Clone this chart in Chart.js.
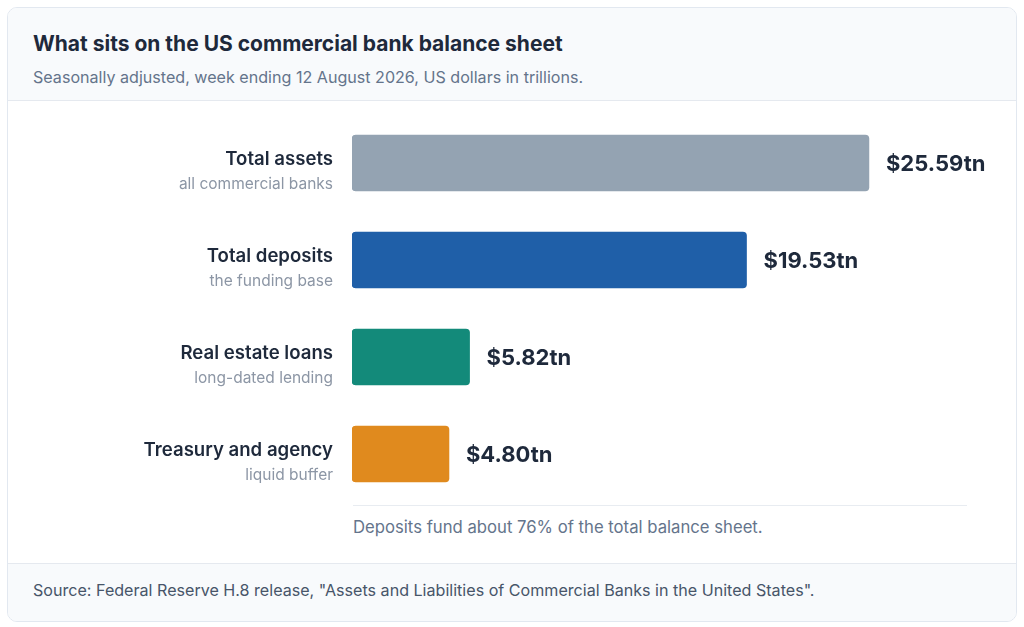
<!DOCTYPE html>
<html>
<head>
<meta charset="utf-8">
<script src="https://cdn.jsdelivr.net/npm/chart.js@4"></script>
<style>
  html, body { margin:0; padding:0; background:#ffffff; width:1024px; height:627px; overflow:hidden; font-family: Inter, "Noto Sans", sans-serif; }
  .card { position:absolute; left:7px; top:7px; width:1008px; height:613px; border:1px solid #e2e8f0; border-radius:10px; background:#fff; overflow:hidden; }
  .head { position:absolute; left:0; top:0; width:100%; height:92px; background:#f8fafc; border-bottom:1px solid #e5e9ef; }
  .title { position:absolute; left:25px; top:23px; font-size:21px; font-weight:700; color:#1e293b; }
  .sub { position:absolute; left:25px; top:59px; font-size:16.1px; color:#64748b; }
  .foot { position:absolute; left:0; top:555px; width:100%; height:60px; background:#f8fafc; border-top:1px solid #e5e9ef; }
  .src { position:absolute; left:25px; top:16px; font-size:16.1px; color:#475569; }
  .divider { position:absolute; left:345px; top:497px; width:614px; height:1px; background:#e8ecf1; }
  .note { position:absolute; left:345px; top:509px; font-size:16.7px; color:#64748b; }
  canvas { position:absolute; left:0; top:0; }
</style>
</head>
<body>
<div class="card">
  <div class="head">
    <div class="title">What sits on the US commercial bank balance sheet</div>
    <div class="sub">Seasonally adjusted, week ending 12 August 2026, US dollars in trillions.</div>
  </div>
  <div class="divider"></div>
  <div class="note">Deposits fund about 76% of the total balance sheet.</div>
  <div class="foot">
    <div class="src">Source: Federal Reserve H.8 release, "Assets and Liabilities of Commercial Banks in the United States".</div>
  </div>
</div>
<canvas id="c" width="1024" height="627"></canvas>
<script>
const categories = ["Total assets", "Total deposits", "Real estate loans", "Treasury and agency"];
const sublabels = ["all commercial banks", "the funding base", "long-dated lending", "liquid buffer"];
const values = [25.59, 19.53, 5.82, 4.80];
const valueLabels = ["$25.59tn", "$19.53tn", "$5.82tn", "$4.80tn"];
const barColors = ["#94a3b2", "#1f5fa8", "#138a7a", "#e08a1e"];

const labelPlugin = {
  id: 'labels',
  afterDatasetsDraw(chart) {
    const ctx = chart.ctx;
    const ys = chart.scales.y;
    const meta = chart.getDatasetMeta(0);
    ctx.save();
    categories.forEach((cat, i) => {
      const cy = ys.getPixelForValue(i);
      ctx.textAlign = 'right';
      ctx.textBaseline = 'middle';
      ctx.fillStyle = '#1e293b';
      ctx.font = '600 18.6px Inter, "Noto Sans", sans-serif';
      ctx.fillText(cat, 333, cy - 3.5);
      ctx.fillStyle = '#8c96a5';
      ctx.font = '400 15.5px Inter, "Noto Sans", sans-serif';
      ctx.fillText(sublabels[i], 333, cy + 21);
      const bar = meta.data[i];
      ctx.textAlign = 'left';
      ctx.fillStyle = '#1e293b';
      ctx.font = '700 22px Inter, "Noto Sans", sans-serif';
      ctx.fillText(valueLabels[i], bar.x + 17, cy + 1);
    });
    ctx.restore();
  }
};

new Chart(document.getElementById('c'), {
  type: 'bar',
  data: {
    labels: categories,
    datasets: [{
      data: values,
      backgroundColor: barColors,
      borderRadius: 4,
      borderSkipped: false,
      barThickness: 56
    }]
  },
  options: {
    indexAxis: 'y',
    responsive: false,
    animation: false,
    events: [],
    layout: { padding: { left: 352, right: 66, top: 114.5, bottom: 124.5 } },
    plugins: { legend: { display: false }, tooltip: { enabled: false } },
    scales: {
      x: { display: false, min: 0, max: 30 },
      y: { display: false }
    }
  },
  plugins: [labelPlugin]
});
</script>
</body>
</html>
